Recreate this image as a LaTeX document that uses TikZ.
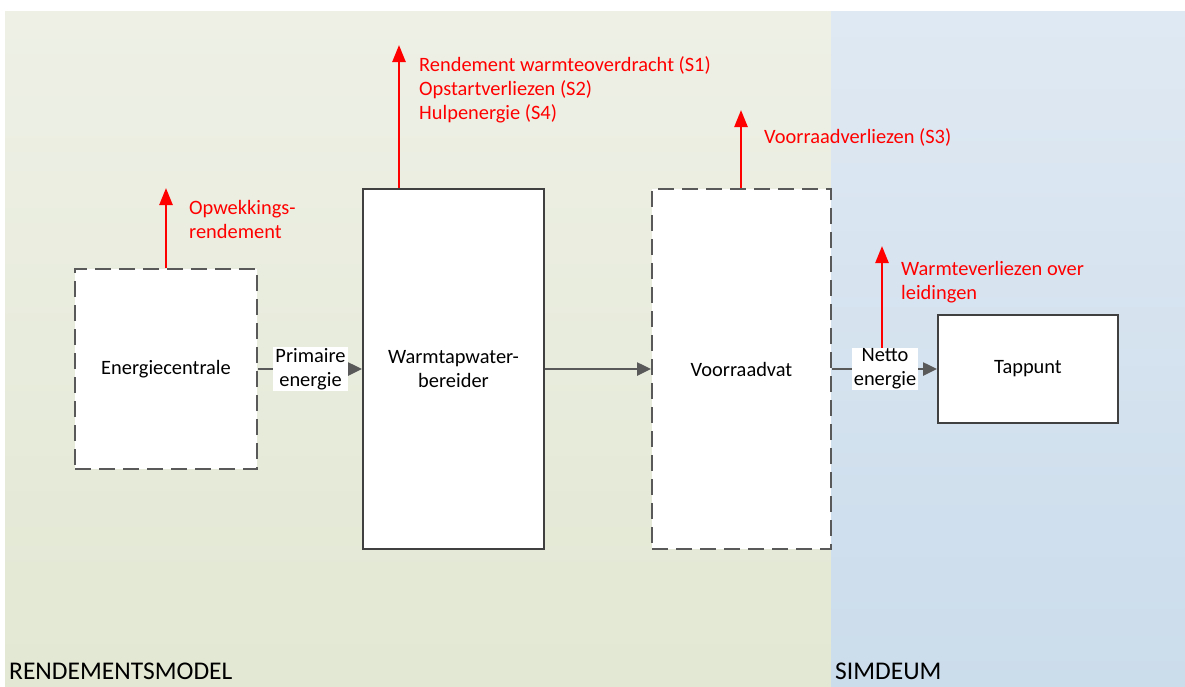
\documentclass[tikz,border=0pt]{standalone}
\usepackage{fontspec}
\setmainfont{Carlito}
\usetikzlibrary{arrows.meta,calc}
\definecolor{lnGray}{HTML}{595959}
\definecolor{boxGray}{HTML}{404040}
\definecolor{gTop}{HTML}{EEF0E6}
\definecolor{gBot}{HTML}{E2E8D3}
\definecolor{bTop}{HTML}{DFE9F3}
\definecolor{bBot}{HTML}{CBDCEB}
\tikzset{
  txt/.style={font=\fontsize{20.4}{24}\selectfont, align=center, inner sep=0pt},
  dashbox/.style={draw=lnGray, line width=2pt, dash pattern=on 16pt off 8pt, fill=white, txt},
  solidbox/.style={draw=boxGray, line width=2pt, fill=white, txt},
  flow/.style={draw=lnGray, line width=2.5pt, -{Triangle[length=14pt,width=13pt]}},
  loss/.style={draw=red, line width=2.5pt, -{Triangle[length=17pt,width=13pt]}},
  losstxt/.style={txt, text=red, align=left, anchor=north west},
  lbl/.style={txt, fill=white, inner xsep=2pt, inner ysep=1pt},
}
\begin{document}
\begin{tikzpicture}[x=1pt,y=-1pt]
\useasboundingbox (0,0) rectangle (1185,686);
\fill[white] (0,0) rectangle (1185,686);
\shade[top color=gTop, bottom color=gBot] (5,11) rectangle (831,686);
\shade[top color=bTop, bottom color=bBot] (831,11) rectangle (1185,686);

\node[dashbox, minimum width=182pt, minimum height=200pt] (ec) at (166,369) {Energiecentrale};
\node[solidbox, minimum width=181pt, minimum height=360pt] (wt) at (453.5,369) {Warmtapwater-\\bereider};
\node[dashbox, minimum width=179pt, minimum height=360pt] (vv) at (741.5,369) {Voorraadvat};
\node[solidbox, minimum width=180pt, minimum height=108pt] (tp) at (1028,369) {Tappunt};

\draw[flow] (ec.east) -- (wt.west);
\draw[flow] (wt.east) -- (vv.west);
\draw[flow] (vv.east) -- (tp.west);
\node[lbl] (pe) at (310.5,369) {Primaire\\energie};
\node[lbl] (ne) at (885,369) {Netto\\energie};

\coordinate (a1) at (166,188);
\coordinate (a2) at (399,45);
\coordinate (a3) at (741,110);
\coordinate (a4) at (882,246);
\draw[loss] (ec.north) -- (a1);
\draw[loss] (wt.north -| a2) -- (a2);
\draw[loss] (vv.north -| a3) -- (a3);
\draw[loss] (ne.north -| a4) -- (a4);

\node[losstxt] (t1) at (189,200) {Opwekkings-\\rendement};
\node[losstxt] (t2) at (419,56) {Rendement warmteoverdracht (S1)\\Opstartverliezen (S2)\\Hulpenergie (S4)};
\node[losstxt] (t3) at (764,128) {Voorraadverliezen (S3)};
\node[losstxt] (t4) at (901,261) {Warmteverliezen over\\leidingen};

\node[txt, anchor=base west] (rm) at (9,679) {\fontsize{25.5}{28}\selectfont RENDEMENTSMODEL};
\node[txt, anchor=base west] (sd) at (835,679) {\fontsize{25.5}{28}\selectfont SIMDEUM};
\end{tikzpicture}
\end{document}
